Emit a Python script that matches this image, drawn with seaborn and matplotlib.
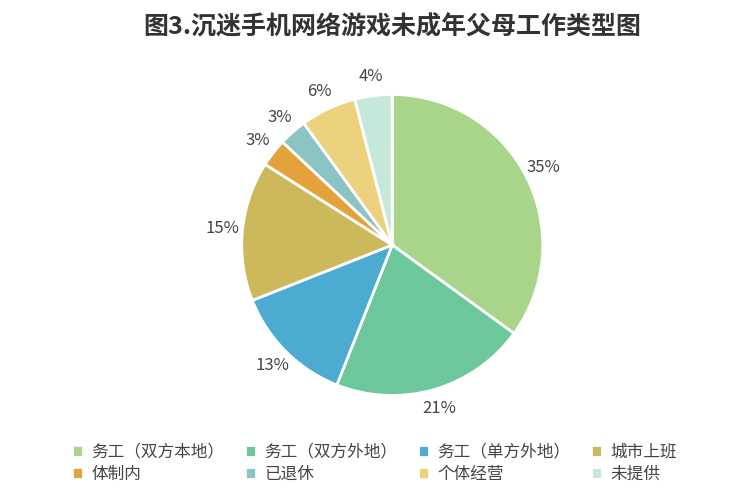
import matplotlib
matplotlib.use("Agg")
import matplotlib.pyplot as plt
import seaborn as sns

sns.set_theme(style="white")
plt.rcParams['font.family'] = ['Noto Sans CJK SC', 'DejaVu Sans']

categories = ['务工（双方本地）', '务工（双方外地）', '务工（单方外地）', '城市上班',
              '体制内', '已退休', '个体经营', '未提供']
values = [35, 21, 13, 15, 3, 3, 6, 4]
colors = ['#a9d58b', '#6cc89a', '#4babd1', '#cdb85c', '#e3a23b', '#8cc3c3', '#ecd27c', '#c6e8db']

fig = plt.figure(figsize=(7.55, 5), dpi=100)
ax = fig.add_axes([0.318, 0.206, 0.403, 0.608])
wedges, texts = ax.pie(values, colors=colors, startangle=90, counterclock=False,
                       labels=[f'{v}%' for v in values], labeldistance=1.13,
                       wedgeprops=dict(edgecolor='white', linewidth=2),
                       textprops=dict(fontsize=12, color='#444444'))
for t in texts:
    t.set_horizontalalignment('center')
    t.set_clip_on(False)
ax.set_xlim(-1.01, 1.01)
ax.set_ylim(-1.01, 1.01)
ax.set_aspect('equal')

fig.text(0.52, 0.945, '图3.沉迷手机网络游戏未成年父母工作类型图', ha='center', va='center',
         fontsize=18, fontweight='bold', color='#333333')

# legend fills column-wise, reorder so rows read like the reference
order = [0, 4, 1, 5, 2, 6, 3, 7]
fig.legend([wedges[i] for i in order], [categories[i] for i in order],
           loc='lower left', bbox_to_anchor=(0.075, 0.005), ncol=4,
           frameon=False, fontsize=12, handlelength=0.7, handleheight=0.7,
           handletextpad=0.5, columnspacing=1.2, labelspacing=0.3, labelcolor='#444444')

fig.savefig('out.png', dpi=100)
